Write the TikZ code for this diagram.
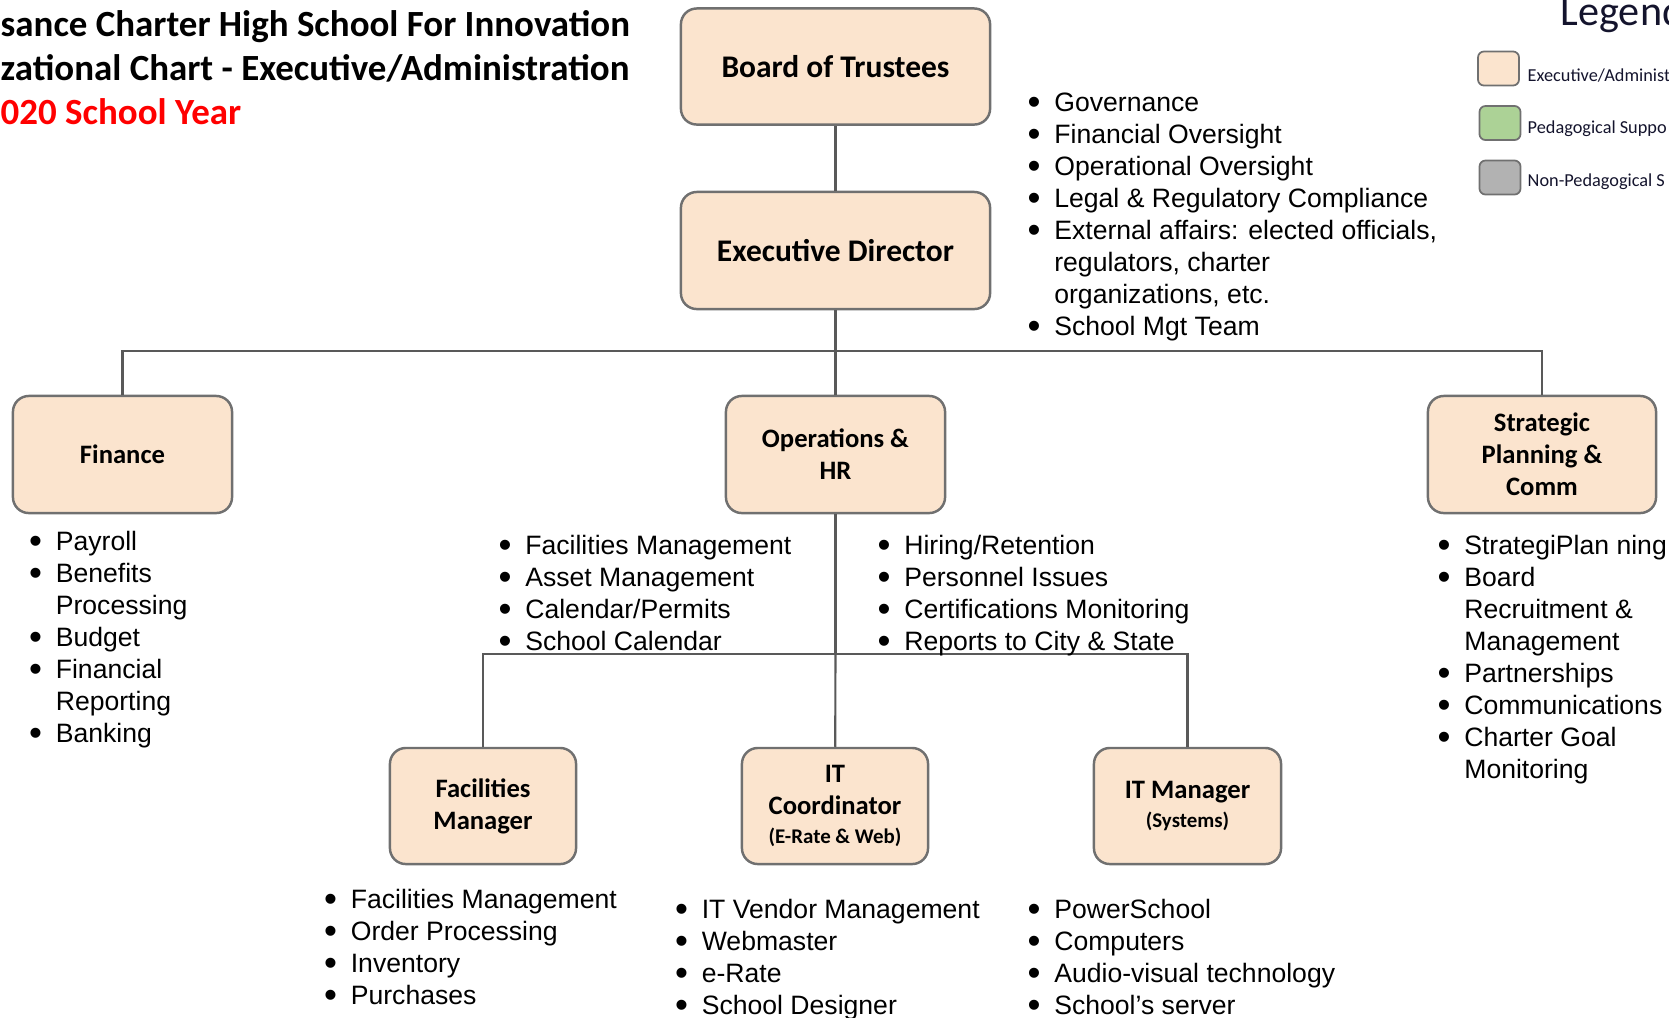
\documentclass[tikz,border=0pt]{standalone}
\usepackage{fontspec}
\setmainfont{Liberation Sans}
\newfontfamily\calibri{Carlito}

\definecolor{peach}{RGB}{251,228,206}
\definecolor{boxgray}{RGB}{112,112,112}
\definecolor{linegray}{RGB}{89,89,89}
\definecolor{pedgreen}{RGB}{172,210,150}
\definecolor{nonpedgray}{RGB}{178,178,178}
\definecolor{legendtext}{RGB}{20,20,45}

\newcommand{\blt}{\raisebox{-0.9pt}{\fontsize{10.5}{0}\selectfont\textbullet}}
\newcommand{\bitems}[1]{\fontsize{7.56}{9.1}\selectfont\begin{tabular}{@{}l@{\hspace{3.9pt}}l@{}}#1\end{tabular}}

\tikzset{
  post/.style={draw=boxgray, fill=peach, line width=0.7pt, rounded corners=4.5pt,
    align=center, minimum height=1.16cm, inner sep=0pt,
    font=\calibri\bfseries\fontsize{7.57}{9.1}\selectfont},
  duties/.style={anchor=north west, inner sep=0pt, align=left},
  conn/.style={draw=linegray, line width=0.6pt},
  key/.style={draw=boxgray, line width=0.5pt, rounded corners=1.7pt,
    minimum width=0.41cm, minimum height=0.34cm, inner sep=0pt},
  keytext/.style={anchor=base west, inner sep=0pt, text=legendtext,
    font=\calibri\fontsize{5.2}{6}\selectfont},
}

\begin{document}
\begin{tikzpicture}[x=0.01cm, y=-0.01cm]
  \useasboundingbox (0,0) rectangle (1669,1017);

  % title
  \node [anchor=base west, inner sep=0pt, font=\calibri\bfseries\fontsize{10.5}{12.5}\selectfont] (ttl1) at (0,36) {sance Charter High School For Innovation};
  \node [anchor=base west, inner sep=0pt, font=\calibri\bfseries\fontsize{10.5}{12.5}\selectfont] (ttl2) at (0,80) {zational Chart - Executive/Administration};
  \node [anchor=base west, inner sep=0pt, text=red, font=\calibri\bfseries\fontsize{10.5}{12.5}\selectfont] (ttl3) at (0,124) {020 School Year};

  % legend
  \node [anchor=base west, inner sep=0pt, text=legendtext, font=\calibri\fontsize{12}{14}\selectfont] (legend) at (1560,25) {Legend};
  \node [key, fill=peach] (key1) at (1498.5,68.5) {};
  \node [key, fill=pedgreen] (key2) at (1500,123) {};
  \node [key, fill=nonpedgray] (key3) at (1500,177.5) {};
  \node [keytext] (keylbl1) at (1527,81) {Executive/Administ};
  \node [keytext] (keylbl2) at (1527,133) {Pedagogical Suppo};
  \node [keytext] (keylbl3) at (1527,186) {Non-Pedagogical S};

  % boxes
  \node [post, minimum width=3.09cm, font=\calibri\bfseries\fontsize{8.95}{10.5}\selectfont] (board) at (835.5,66.5) {Board of Trustees};
  \node [post, minimum width=3.09cm, minimum height=1.17cm, font=\calibri\bfseries\fontsize{8.95}{10.5}\selectfont] (ed) at (835.5,250.5) {Executive Director};
  \node [post, minimum width=2.19cm, minimum height=1.17cm] (fin) at (122.5,454.5) {Finance};
  \node [post, minimum width=2.19cm, minimum height=1.17cm] (ops) at (835.5,454.5) {Operations \&\\HR};
  \node [post, minimum width=2.28cm, minimum height=1.17cm] (strat) at (1542,454.5) {Strategic\\Planning \&\\Comm};
  \node [post, minimum width=1.86cm] (facm) at (483,806) {Facilities\\Manager};
  \node [post, minimum width=1.86cm] (itc) at (835,806) {IT\\Coordinator\\[-0.8pt]{\fontsize{5.94}{7}\selectfont(E-Rate \& Web)}};
  \node [post, minimum width=1.87cm] (itm) at (1187.5,806) {IT Manager\\[-0.6pt]{\fontsize{5.94}{7}\selectfont(Systems)}};

  % connectors
  \coordinate (topbar) at (835.5,351);
  \coordinate (lowbar) at (835.5,654);
  \draw [conn] (board) -- (ed);
  \draw [conn] (ed) -- (topbar);
  \draw [conn] (fin.north) |- (topbar) -| (strat.north);
  \draw [conn] (topbar) -- (ops);
  \draw [conn] (ops) -- (lowbar);
  \draw [conn] (facm.north) |- (lowbar) -| (itm.north);
  \draw [conn] (lowbar) -- (itc);

  % duties
  \node [duties] (eddut) at (1027,88) {\bitems{
    \blt & Governance\\
    \blt & Financial Oversight\\
    \blt & Operational Oversight\\
    \blt & Legal \& Regulatory Compliance\\
    \blt & External affairs: elected officials,\\
         & regulators, charter\\
         & organizations, etc.\\
    \blt & School Mgt Team}};
  \node [duties] (findut) at (28.5,527) {\bitems{
    \blt & Payroll\\
    \blt & Benefits\\
         & Processing\\
    \blt & Budget\\
    \blt & Financial\\
         & Reporting\\
    \blt & Banking}};
  \node [duties] (opsdut1) at (498,531) {\bitems{
    \blt & Facilities Management\\
    \blt & Asset Management\\
    \blt & Calendar/Permits\\
    \blt & School Calendar}};
  \node [duties] (opsdut2) at (877,531) {\bitems{
    \blt & Hiring/Retention\\
    \blt & Personnel Issues\\
    \blt & Certifications Monitoring\\
    \blt & Reports to City \& State}};
  \node [duties] (stratdut) at (1437,531) {\bitems{
    \blt & StrategiPlan ning\\
    \blt & Board\\
         & Recruitment \&\\
         & Management\\
    \blt & Partnerships\\
    \blt & Communications\\
    \blt & Charter Goal\\
         & Monitoring}};
  \node [duties] (facmdut) at (323.5,885) {\bitems{
    \blt & Facilities Management\\
    \blt & Order Processing\\
    \blt & Inventory\\
    \blt & Purchases}};
  \node [duties] (itcdut) at (674.5,895) {\bitems{
    \blt & IT Vendor Management\\
    \blt & Webmaster\\
    \blt & e-Rate\\
    \blt & School Designer}};
  \node [duties] (itmdut) at (1027,895) {\bitems{
    \blt & PowerSchool\\
    \blt & Computers\\
    \blt & Audio-visual technology\\
    \blt & School’s server}};
\end{tikzpicture}
\end{document}
